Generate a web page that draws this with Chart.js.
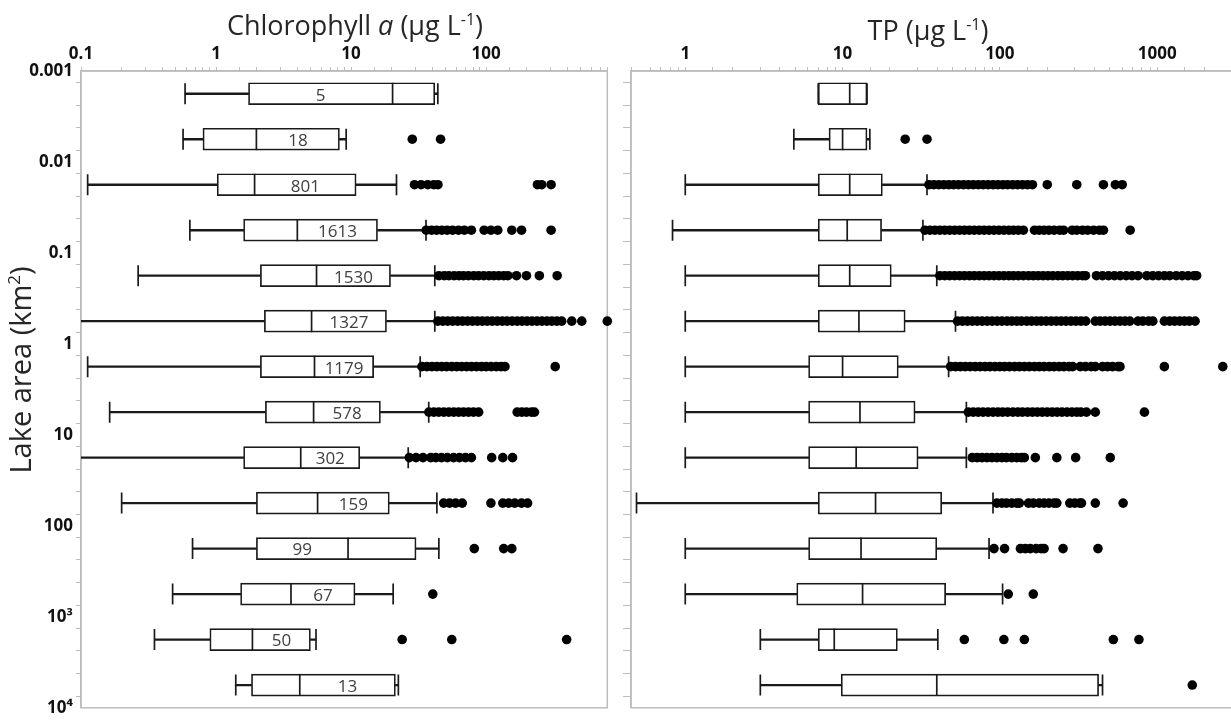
<!DOCTYPE html>
<html>
<head>
<meta charset="utf-8">
<script src="https://cdn.jsdelivr.net/npm/chart.js@4.4.0/dist/chart.umd.min.js"></script>
<style>
  html, body { margin: 0; padding: 0; background: #fff; overflow: hidden; width: 1231px; height: 721px; }
  #chl { position: absolute; left: 0; top: 0; }
  #tp { position: absolute; left: 617px; top: 0; }
</style>
</head>
<body>
<canvas id="chl" width="620" height="721"></canvas>
<canvas id="tp" width="628" height="721"></canvas>
<script>
// lake area classes: log10(km2) of each half-decade row centre
const areaLog = [-2.75, -2.25, -1.75, -1.25, -0.75, -0.25, 0.25, 0.75, 1.25, 1.75, 2.25, 2.75, 3.25, 3.75];
const areaTickLabels = ['0.001', '0.01', '0.1', '1', '10', '100', '10³', '10⁴'];
const lakeCounts = [5, 18, 801, 1613, 1530, 1327, 1179, 578, 302, 159, 99, 67, 50, 13];

// Chlorophyll a (ug/L)
const chlMin = [0.59, 0.57, 0.112, 0.64, 0.265, 0.09, 0.112, 0.163, 0.09, 0.2, 0.67, 0.477, 0.35, 1.4];
const chlQ1 = [1.74, 0.8, 1.02, 1.6, 2.13, 2.28, 2.13, 2.32, 1.6, 1.99, 1.99, 1.52, 0.9, 1.83];
const chlMed = [20.3, 1.99, 1.93, 4.0, 5.55, 5.1, 5.36, 5.28, 4.24, 5.65, 9.5, 3.59, 1.86, 4.17];
const chlQ3 = [41.7, 8.2, 10.9, 15.7, 19.6, 18.3, 14.7, 16.5, 11.6, 19.2, 30.3, 10.7, 5.0, 21.3];
const chlMax = [43.9, 9.2, 21.7, 35.9, 41.7, 41.7, 32.5, 37.6, 26.5, 43.2, 44.7, 20.5, 5.5, 22.4];
const chlOut = [
  [],
  [28.4, 46],
  [29.5, 33, 37, 41, 44, 240, 258, 303],
  [36, 39.5, 43, 47, 51.5, 56.5, 62.5, 69, 77.8, 96.7, 108.6, 122, 155, 183, 303],
  [44.7, 49, 53, 58, 63, 68, 74, 81, 88, 96, 105, 114, 124, 135, 145, 168, 199, 248, 336],
  [43.9, 47.8, 52, 56.6, 61.6, 67, 72.9, 79.3, 86.3, 93.9, 102, 111, 121, 132, 143, 156, 170, 185, 201, 219, 238, 259, 282, 307, 334, 363, 431, 511, 790],
  [33.5, 36.5, 39.7, 43.2, 47, 51, 55.7, 60.6, 65.9, 71.7, 78, 84.9, 92.4, 100, 109, 119, 129, 138, 325],
  [37.7, 41, 44.6, 48.6, 52.9, 57.6, 62.6, 68.1, 74.1, 80.6, 88, 170, 184, 199, 217, 228],
  [27, 30.3, 34.1, 38.9, 42.4, 46.7, 51.6, 57.4, 63.5, 70.3, 77.8, 110, 133, 157],
  [48.5, 53.6, 59.4, 66.6, 108.6, 133, 147, 163, 183, 203],
  [81.8, 135, 155],
  [40.3],
  [23.9, 55.7, 395],
  []
];

// total phosphorus (ug/L)
const tpMin = [7.0, 4.9, 1.0, 0.83, 1.0, 1.0, 1.0, 1.0, 1.0, 0.49, 1.0, 1.0, 3.0, 3.0];
const tpQ1 = [7.0, 8.2, 7.0, 7.0, 7.0, 7.0, 6.08, 6.08, 6.08, 7.0, 6.08, 5.11, 7.0, 9.8];
const tpMed = [11.1, 10.0, 11.1, 10.7, 11.1, 12.7, 10.0, 12.9, 12.2, 16.2, 13.1, 13.4, 8.85, 39.7];
const tpQ3 = [14.3, 14.3, 17.9, 17.7, 20.4, 25.0, 22.6, 28.9, 30.2, 42.7, 39.7, 45.2, 22.3, 424];
const tpMax = [14.3, 14.9, 34.4, 32.4, 39.7, 52.2, 47.2, 61.2, 61.2, 90.4, 85.3, 104, 40.3, 449];
const tpOut = [
  [],
  [25, 34.4],
  [35.4, 38, 40.9, 44, 47.3, 50.8, 54.6, 58.7, 63.1, 67.8, 72.9, 78.3, 84.2, 90.5, 97.2, 104.5, 112, 120.6, 129.7, 139.4, 149.8, 161, 200, 308, 455, 542, 599],
  [33.4, 35.9, 38.6, 41.5, 44.6, 47.9, 51.5, 55.4, 59.5, 63.9, 68.7, 73.9, 79.4, 85.3, 91.7, 98.6, 106, 114, 122, 131, 141, 166, 178, 191, 205, 221, 240, 254, 288, 308, 335, 361, 394, 429, 455, 673],
  [41.5, 44.6, 47.9, 51.5, 55.4, 59.5, 64, 68.7, 73.9, 79.4, 85.3, 91.7, 98.6, 106, 114, 122, 131, 141, 152, 163, 175, 188, 202, 217, 234, 251, 270, 290, 312, 335, 350, 411, 449, 490, 534, 582, 635, 692, 755, 859, 937, 1020, 1110, 1200, 1320, 1440, 1570, 1710, 1780],
  [53.8, 57.8, 62.2, 66.8, 71.8, 77.2, 83, 89.2, 95.9, 103, 111, 119, 128, 137, 148, 159, 171, 183, 197, 212, 228, 245, 263, 283, 304, 327, 351, 404, 434, 467, 502, 539, 580, 623, 669, 754, 810, 880, 937, 1110, 1200, 1290, 1390, 1490, 1600, 1740],
  [48.6, 52.2, 56.1, 60.3, 64.8, 69.7, 74.9, 80.5, 86.5, 93, 99.9, 107, 115, 124, 133, 143, 154, 166, 178, 191, 206, 221, 238, 255, 275, 290, 324, 350, 380, 404, 449, 483, 520, 563, 580, 1110, 2610],
  [63, 67.7, 72.8, 78.2, 84.1, 90.4, 97.1, 104, 112, 121, 130, 139, 150, 161, 173, 186, 200, 215, 231, 248, 267, 287, 308, 327, 355, 404, 829],
  [66.7, 71.7, 77, 82.8, 89, 95.7, 103, 110, 119, 128, 137, 143, 168, 230, 303, 503],
  [95.7, 103, 110, 119, 128, 133, 152, 163, 178, 191, 205, 221, 230, 278, 299, 322, 330, 404, 607],
  [91.7, 107, 135, 145, 156, 170, 183, 191, 252, 420],
  [113, 163],
  [59.4, 106, 143, 526, 765],
  [1670]
];

const INK = '#1a1a1a';
const AXIS = '#bcbcbc';
const FONT = '"Open Sans", "DejaVu Sans", sans-serif';

function decadeLabel(v) {
  const l = Math.log10(v);
  const p = Math.round(l);
  if (Math.abs(l - p) > 1e-6) return '';
  return p < 0 ? '0.' + '0'.repeat(-p - 1) + '1' : String(Math.pow(10, p));
}

function drawRich(ctx, parts, cx, baseline, size) {
  const fontOf = p => (p.italic ? 'italic ' : '') + (p.sup ? Math.round(size * 0.6) : size) + 'px ' + FONT;
  let total = 0;
  parts.forEach(p => { ctx.font = fontOf(p); total += ctx.measureText(p.t).width; });
  let x = cx - total / 2;
  ctx.textAlign = 'left';
  ctx.textBaseline = 'alphabetic';
  parts.forEach(p => {
    ctx.font = fontOf(p);
    ctx.fillText(p.t, x, p.sup ? baseline - size * 0.38 : baseline);
    x += ctx.measureText(p.t).width;
  });
}

function panelPlugin(o) {
  return {
    id: 'panel',
    beforeDatasetsDraw(chart) {
      const {ctx, chartArea: a} = chart;
      ctx.save();
      ctx.strokeStyle = AXIS;
      ctx.lineWidth = 1.5;
      ctx.strokeRect(a.left, a.top, a.right - a.left, a.bottom - a.top);
      ctx.restore();
    },
    afterDatasetsDraw(chart) {
      const {ctx} = chart;
      const {x, y} = chart.scales;
      ctx.save();
      ctx.fillStyle = '#262626';
      drawRich(ctx, o.title, o.titleX, o.titleY, 27);
      if (o.yTitle) {
        ctx.save();
        ctx.translate(o.yTitleX, o.yTitleY);
        ctx.rotate(-Math.PI / 2);
        drawRich(ctx, o.yTitle, 0, 0, 29);
        ctx.restore();
      }
      if (o.counts) {
        ctx.font = '17px ' + FONT;
        ctx.fillStyle = '#404040';
        ctx.textAlign = 'center';
        ctx.textBaseline = 'middle';
        o.counts.forEach((n, i) => {
          const a = x.getPixelForValue(o.q1[i]);
          const m = x.getPixelForValue(o.med[i]);
          const b = x.getPixelForValue(o.q3[i]);
          const cx = (m - a > b - m) ? (a + m) / 2 : (m + b) / 2;
          ctx.fillText(String(n), cx, y.getPixelForValue(areaLog[i]) + 2);
        });
      }
      ctx.restore();
    }
  };
}

function makeDatasets(mins, q1s, meds, q3s, maxs, outs) {
  const pts = [];
  outs.forEach((row, i) => row.forEach(v => pts.push({x: v, y: areaLog[i]})));
  const caps = [];
  areaLog.forEach((y, i) => { caps.push({x: mins[i], y}, {x: maxs[i], y}); });
  return [
    {type: 'bar', indexAxis: 'y', grouped: false, order: 4, barThickness: 1.7,
     backgroundColor: INK, borderWidth: 0,
     data: areaLog.map((y, i) => ({x: [mins[i], q1s[i]], y}))},
    {type: 'bar', indexAxis: 'y', grouped: false, order: 4, barThickness: 1.7,
     backgroundColor: INK, borderWidth: 0,
     data: areaLog.map((y, i) => ({x: [q3s[i], maxs[i]], y}))},
    {type: 'bar', indexAxis: 'y', grouped: false, order: 3, barThickness: 22,
     backgroundColor: '#fff', borderColor: INK, borderWidth: 1.7, borderSkipped: false,
     data: areaLog.map((y, i) => ({x: [q1s[i], q3s[i]], y}))},
    {type: 'scatter', order: 2, clip: 0, pointStyle: 'line', pointRotation: 90, pointRadius: 11,
     pointBorderColor: INK, pointBorderWidth: 1.7,
     data: areaLog.map((y, i) => ({x: meds[i], y}))},
    {type: 'scatter', order: 2, clip: 0, pointStyle: 'line', pointRotation: 90, pointRadius: 10.5,
     pointBorderColor: INK, pointBorderWidth: 1.7, data: caps},
    {type: 'scatter', order: 1, clip: false, pointStyle: 'circle', pointRadius: 4.8,
     pointBackgroundColor: '#000', pointBorderWidth: 0, data: pts}
  ];
}

function makeChart(id, datasets, xMin, xMax, yWidth, yTickLen, showYLabels, padRight, plugin) {
  return new Chart(document.getElementById(id), {
    type: 'scatter',
    data: {datasets},
    options: {
      responsive: false,
      animation: false,
      events: [],
      layout: {padding: {left: 0, right: padRight, top: 0, bottom: 6}},
      plugins: {legend: {display: false}, tooltip: {enabled: false}},
      scales: {
        x: {
          type: 'logarithmic', position: 'top', min: xMin, max: xMax,
          grid: {drawOnChartArea: false, drawTicks: true, tickLength: 4, color: AXIS, lineWidth: 1},
          border: {color: AXIS, width: 1.5},
          ticks: {autoSkip: false, maxRotation: 0, padding: 3, color: '#111',
                  font: {family: FONT, size: 17, weight: 'bold'}, callback: v => decadeLabel(v)},
          afterFit: s => { s.height = 71; }
        },
        y: {
          type: 'linear', min: -3, max: 4, reverse: true, offset: false,
          afterBuildTicks: s => {
            const t = [];
            for (let k = 0; k <= 28; k++) t.push({value: -3 + k * 0.25});
            s.ticks = t;
          },
          grid: {drawOnChartArea: false, drawTicks: true, tickLength: yTickLen, color: AXIS, lineWidth: 1},
          border: {color: AXIS, width: 1.5},
          ticks: {autoSkip: false, padding: 3, color: '#111',
                  font: {family: FONT, size: 17, weight: 'bold'},
                  callback: v => (showYLabels && Number.isInteger(v)) ? areaTickLabels[v + 3] : ''},
          afterFit: s => { s.width = yWidth; }
        }
      }
    },
    plugins: [plugin]
  });
}

makeChart('chl', makeDatasets(chlMin, chlQ1, chlMed, chlQ3, chlMax, chlOut),
  0.1, 790, 81, 5, true, 5,
  panelPlugin({
    title: [{t: 'Chlorophyll '}, {t: 'a', italic: true}, {t: ' (µg L'}, {t: '-1', sup: true}, {t: ')'}],
    titleX: 355, titleY: 35,
    yTitle: [{t: 'Lake area (km'}, {t: '2', sup: true}, {t: ')'}],
    yTitleX: 31, yTitleY: 370,
    counts: lakeCounts, q1: chlQ1, med: chlMed, q3: chlQ3
  }));

makeChart('tp', makeDatasets(tpMin, tpQ1, tpMed, tpQ3, tpMax, tpOut),
  0.452, 3000, 14, 8, false, 4,
  panelPlugin({
    title: [{t: 'TP (µg L'}, {t: '-1', sup: true}, {t: ')'}],
    titleX: 311, titleY: 40
  }));
</script>
</body>
</html>
